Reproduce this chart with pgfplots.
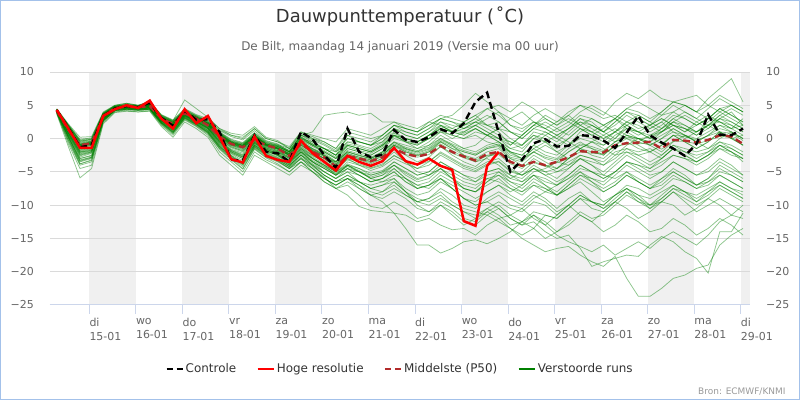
\documentclass[border=0pt]{standalone}
\usepackage{fontspec}
\setmainfont{DejaVu Sans}
\usepackage{pgfplots}
\usepackage{pgfplotstable}
\pgfplotsset{compat=1.18}
\definecolor{gridc}{HTML}{DADADA}
\definecolor{axisc}{HTML}{CCD6EB}
\definecolor{bandc}{HTML}{F0F0F0}
\definecolor{labc}{HTML}{666666}
\definecolor{titc}{HTML}{333333}
\definecolor{credc}{HTML}{999999}
\definecolor{ensc}{HTML}{008000}
\definecolor{p50c}{HTML}{B22B2B}
\definecolor{borderc}{HTML}{A3C1EA}

% control run, median (P50), high resolution run; 6-hourly from 14-01 07h
\pgfplotstableread{
ctrl p50 hres
4.3 4.2 4.3
1.6 1.3 1.5
-1.3 -1.0 -1.4
-1.0 -0.7 -1.4
3.4 3.3 3.4
4.5 4.6 4.4
4.9 4.8 5.0
4.7 4.7 4.6
5.4 4.9 5.7
3.1 3.0 3.0
1.9 2.2 1.5
4.2 3.8 4.4
2.8 3.0 2.3
2.9 2.0 3.4
1.0 0.3 0.2
-3.2 -0.8 -3.1
-3.3 -1.3 -3.6
0.5 -0.2 0.3
-2.0 -1.0 -2.6
-2.2 -1.5 -3.2
-3.5 -2.6 -3.5
1.0 -0.8 -0.3
-0.1 -2.0 -2.2
-2.5 -2.8 -3.5
-4.4 -4.2 -4.8
1.5 -2.6 -2.6
-2.0 -3.0 -3.5
-2.8 -3.4 -4.1
-2.4 -2.8 -3.4
1.3 -1.5 -1.4
-0.2 -2.3 -3.4
-0.5 -2.7 -3.9
0.2 -2.3 -3.0
1.4 -1.1 -4.1
0.8 -2.0 -4.7
2.3 -2.7 -12.4
5.5 -3.3 -13.1
6.9 -2.3 -4.1
0.9 -2.0 -2.0
-5.0 -3.5 nan
-3.2 -4.1 nan
-0.7 -3.5 nan
-0.1 -4.0 nan
-1.2 -3.5 nan
-1.1 -2.8 nan
0.5 -1.9 nan
0.4 -2.0 nan
-0.3 -2.1 nan
-1.4 -1.0 nan
0.9 -0.7 nan
3.4 -0.6 nan
0.5 -0.5 nan
-0.6 -1.5 nan
-1.5 -0.2 nan
-2.6 -0.3 nan
-0.8 -0.6 nan
3.6 -0.2 nan
0.6 0.5 nan
0.5 0.3 nan
1.5 -0.8 nan
}\maintab

% ensemble members, one member per row (60 values, 6-hourly)
\pgfplotstableread[header=false]{
4.3 1.8 -0.8 -0.5 3.6 4.8 5.0 4.8 5.2 3.2 2.4 4.0 3.2 2.4 0.8 -0.5 -1.0 0.5 -0.8 -1.2 -2.0 0.5 -0.5 -1.5 -2.5 0.5 -0.5 -1.0 -0.5 1.5 0.5 0.0 1.0 2.0 1.5 2.5 3.5 2.0 1.0 -1.0 0.5 2.0 1.5 0.5 1.5 3.0 2.5 1.0 2.0 3.5 2.5 1.5 2.5 4.0 3.0 2.0 3.0 4.5 3.5 2.5
4.2 1.2 -1.5 -1.0 3.4 4.6 4.8 4.7 4.9 3.0 2.0 3.8 2.9 2.0 0.2 -1.0 -1.5 0.0 -1.2 -1.8 -2.8 -1.0 -2.2 -3.0 -4.0 -2.5 -3.2 -3.8 -3.0 -1.5 -2.5 -3.5 -2.8 -1.2 -2.5 -3.5 -4.2 -2.8 -2.0 -3.0 -4.0 -2.5 -3.5 -4.5 -3.0 -1.5 -2.5 -3.0 -1.5 -0.5 -1.5 -2.0 -1.0 0.5 -0.5 -1.5 -0.5 1.0 0.0 -1.0
4.0 0.5 -2.5 -2.0 3.0 4.5 4.6 4.5 4.6 2.6 1.5 3.5 2.5 1.5 -0.5 -2.0 -2.8 -0.8 -1.8 -2.5 -3.5 -2.0 -3.5 -4.5 -5.5 -4.0 -5.0 -6.0 -5.5 -4.0 -5.5 -6.5 -6.0 -4.5 -6.0 -7.5 -8.0 -6.5 -5.5 -7.0 -8.0 -6.5 -7.5 -8.5 -7.0 -5.5 -6.5 -8.0 -7.0 -5.5 -6.5 -7.5 -6.0 -4.5 -5.5 -7.0 -6.0 -4.0 -5.0 -6.0
3.8 -0.5 -4.0 -3.5 2.6 4.2 4.4 4.3 4.4 2.2 0.8 3.0 2.0 0.8 -1.5 -3.0 -4.5 -1.5 -2.8 -3.5 -4.5 -3.0 -4.5 -5.8 -7.5 -8.5 -10.2 -10.8 -11.0 -11.2 -13.5 -16.0 -16.0 -17.2 -16.5 -15.5 -15.2 -15.8 -15.0 -14.0 -12.5 -13.5 -11.5 -12.0 -10.5 -9.0 -10.5 -11.0 -9.5 -8.0 -9.5 -10.5 -9.0 -7.5 -8.5 -9.5 -8.0 -7.0 -8.0 -9.0
3.9 -0.8 -4.5 -4.0 2.4 4.0 4.2 4.0 4.2 2.0 0.5 2.8 1.8 0.5 -2.0 -3.5 -5.0 -2.0 -3.2 -4.0 -5.0 -3.5 -5.0 -6.5 -7.5 -6.5 -7.5 -8.5 -8.0 -7.0 -8.5 -9.5 -9.0 -8.0 -9.5 -10.5 -11.0 -11.5 -12.5 -13.5 -15.0 -16.0 -17.0 -16.5 -16.2 -17.5 -18.5 -19.2 -17.7 -21.0 -23.7 -23.7 -22.5 -21.0 -20.5 -19.5 -19.0 -16.0 -14.5 -13.5
4.1 0.8 -2.0 -1.8 3.1 4.5 4.7 4.5 4.7 2.7 1.6 3.6 2.6 1.6 -0.3 -1.8 -2.5 -0.5 -1.6 -2.3 -3.5 -1.5 -3.0 -4.0 -5.5 -4.5 -5.5 -6.5 -6.0 -5.0 -6.5 -7.5 -7.0 -6.0 -7.5 -9.0 -10.0 -9.5 -10.5 -12.0 -13.0 -12.5 -14.0 -15.0 -14.5 -16.5 -19.2 -18.5 -18.0 -17.5 -17.7 -16.0 -14.7 -15.5 -17.0 -18.0 -20.2 -14.0 -14.0 -11.2
4.0 0.2 -3.0 -2.6 2.8 4.3 4.5 4.4 4.5 2.4 1.2 3.3 2.3 1.2 -1.0 -2.5 -3.5 -1.0 -2.2 -3.0 -4.0 -2.5 -4.0 -5.5 -6.5 -6.0 -7.5 -8.5 -9.5 -11.2 -11.5 -12.5 -12.0 -13.0 -13.7 -13.5 -14.5 -13.0 -12.0 -11.5 -10.5 -12.0 -13.0 -11.5 -10.0 -11.5 -12.5 -11.0 -9.5 -10.5 -12.0 -11.0 -9.5 -10.0 -11.5 -10.5 -9.0 -10.0 -11.5 -10.0
4.5 2.2 0.2 0.3 4.0 5.0 5.3 5.0 5.5 3.6 2.8 4.5 3.6 3.0 1.5 0.8 0.5 1.8 0.2 -0.3 -1.5 1.0 0.0 -0.5 -1.5 1.0 0.5 0.0 0.5 2.0 1.5 1.0 2.0 3.0 3.5 5.0 6.8 5.5 4.0 2.0 1.0 2.5 2.0 1.0 2.0 3.5 3.0 2.0 3.0 4.5 4.0 3.0 4.0 5.5 5.0 4.0 5.0 6.5 5.5 4.5
4.4 2.0 -0.2 0.0 3.8 4.9 5.1 4.9 5.3 3.4 2.6 4.3 3.4 2.7 1.2 0.3 -0.2 1.2 -0.3 -0.8 -2.0 0.0 -1.0 -2.0 -3.0 -1.0 -1.5 -2.0 -1.0 0.5 0.0 -0.5 0.5 1.5 1.0 2.0 3.0 2.0 1.5 0.0 -1.0 1.0 0.5 -0.5 1.0 2.5 2.0 1.0 2.5 4.0 3.5 2.5 4.0 5.5 5.0 4.0 6.0 7.5 9.0 5.5
4.2 1.5 -1.2 -0.8 3.5 4.7 4.9 4.8 5.0 3.1 2.1 3.9 3.0 2.1 0.4 -0.8 -1.3 0.2 -1.0 -1.5 -2.5 -0.5 -1.5 -2.5 -3.5 -1.5 -2.0 -2.5 -1.5 0.0 -0.5 -1.0 0.0 1.5 1.0 1.5 2.5 2.0 2.5 1.0 0.5 2.0 3.0 2.0 3.5 5.0 4.5 3.5 5.5 6.8 6.0 7.3 6.0 5.5 6.0 6.5 5.0 4.0 5.0 4.0
4.1 1.0 -1.8 -1.4 3.2 4.5 4.7 4.6 4.8 2.9 1.8 3.7 2.8 1.8 0.0 -1.3 -1.8 -0.3 -1.4 -2.0 -3.0 -1.5 -2.5 -3.5 -4.5 -3.0 -4.0 -4.5 -4.0 -2.5 -3.5 -4.5 -3.5 -2.0 -3.0 -4.0 -4.5 -3.5 -3.0 -4.5 -5.5 -4.0 -5.0 -6.0 -4.5 -3.0 -4.0 -5.0 -3.5 -2.0 -3.0 -4.0 -3.0 -1.5 -2.5 -3.5 -2.5 -1.0 -2.0 -3.5
4.3 1.6 -1.0 -0.6 3.5 4.7 4.9 4.8 5.1 3.1 2.3 4.0 3.1 2.3 0.6 -0.6 -1.1 0.4 -0.9 -1.4 -2.2 0.2 -1.0 -2.0 -3.0 -1.5 -2.0 -2.5 -1.5 0.5 -0.5 -1.0 0.0 1.0 0.0 1.0 2.0 1.0 0.0 -1.5 -2.0 0.0 1.0 0.0 -1.0 1.0 2.0 1.0 0.0 2.0 3.0 2.0 1.0 2.5 3.5 2.5 1.5 3.0 4.0 2.0
4.0 0.4 -2.8 -2.2 2.9 4.4 4.6 4.4 4.6 2.5 1.3 3.4 2.4 1.4 -0.8 -2.2 -3.0 -1.0 -2.0 -2.8 -4.0 -2.5 -4.0 -5.0 -6.0 -4.5 -5.5 -6.5 -6.0 -4.5 -6.0 -7.0 -7.5 -6.0 -7.0 -8.0 -9.0 -8.0 -7.0 -8.5 -9.5 -8.0 -9.0 -10.5 -9.0 -8.0 -9.5 -10.5 -9.0 -7.5 -8.5 -10.0 -9.0 -7.5 -8.0 -9.5 -8.5 -7.0 -8.0 -9.0
4.2 1.4 -1.3 -0.9 3.4 4.6 4.8 4.7 4.9 3.0 2.1 3.8 3.0 2.0 0.3 -0.9 -1.4 0.0 -1.1 -1.6 -2.6 -0.8 -2.0 -3.0 -4.2 -2.5 -3.0 -3.5 -2.5 -1.0 -2.0 -2.5 -2.0 -0.5 -1.5 -2.5 -3.0 -2.0 -1.5 -3.0 -3.5 -2.0 -3.0 -3.5 -2.0 -1.0 -1.5 -2.5 -1.0 0.0 -0.5 -1.0 0.0 1.0 0.5 -0.5 0.5 1.5 1.0 0.0
3.9 -0.2 -3.5 -3.0 2.7 4.2 4.4 4.3 4.4 2.3 0.9 3.1 2.1 0.9 -1.3 -2.8 -4.0 -1.3 -2.5 -3.3 -4.5 -3.5 -5.0 -6.5 -7.5 -7.0 -8.5 -10.2 -10.5 -9.5 -10.5 -12.0 -11.5 -10.0 -11.0 -12.5 -13.0 -11.5 -10.5 -12.0 -13.0 -11.5 -12.5 -14.0 -13.0 -11.5 -12.5 -14.0 -13.0 -11.5 -12.5 -14.0 -13.5 -12.0 -13.0 -14.5 -13.5 -12.0 -13.0 -14.5
4.4 1.9 -0.5 -0.3 3.7 4.8 5.0 4.9 5.3 3.3 2.5 4.1 3.3 2.5 0.9 -0.3 -0.8 0.7 -0.6 -1.0 -1.8 0.5 -0.2 -1.0 -2.0 0.0 -0.5 -1.0 0.0 1.5 1.0 0.5 1.5 2.5 2.0 1.5 2.5 3.5 2.5 1.0 0.0 1.5 2.5 1.5 0.5 2.0 3.0 2.0 1.0 2.5 3.5 2.5 1.5 3.0 4.0 3.0 2.0 3.5 4.5 3.5
4.1 0.6 -2.2 -1.8 3.0 4.4 4.6 4.5 4.7 2.7 1.5 3.5 2.6 1.6 -0.4 -1.8 -2.6 -0.6 -1.7 -2.4 -3.5 -2.0 -3.0 -4.0 -5.0 -4.0 -4.5 -5.5 -5.0 -3.5 -4.5 -5.5 -5.0 -3.5 -4.5 -5.5 -6.5 -5.5 -5.0 -6.5 -7.5 -6.0 -7.0 -8.0 -6.5 -5.0 -6.0 -7.0 -5.5 -4.0 -5.0 -6.0 -5.0 -3.5 -4.5 -5.5 -4.5 -3.0 -4.0 -5.5
4.3 1.7 -0.9 -0.6 3.6 4.7 5.0 4.8 5.1 3.2 2.4 4.0 3.2 2.3 0.7 -0.4 -0.8 0.6 -0.6 -1.1 -2.0 0.5 1.0 3.5 3.8 4.0 3.5 3.8 2.5 2.5 1.5 1.0 2.5 2.0 1.0 0.5 1.5 0.5 -0.5 -1.5 -1.0 0.5 -0.5 -1.5 0.0 1.5 0.5 -0.5 1.0 2.0 1.0 0.0 1.5 2.5 1.5 0.5 2.0 3.0 2.0 1.0
4.2 1.3 -1.4 -1.0 3.4 4.6 4.8 4.7 4.9 3.0 2.0 3.8 2.9 2.0 0.2 -1.0 -1.6 -0.1 -1.2 -1.8 -2.8 -1.0 -2.0 -3.0 -3.5 -2.0 -2.5 -3.0 -2.0 -0.5 -1.0 -1.5 -0.5 1.0 0.5 0.0 1.0 0.5 0.0 -1.0 0.5 2.0 3.5 2.5 4.0 5.0 4.0 3.0 3.5 2.5 1.5 2.0 3.0 2.0 1.0 2.0 3.0 2.5 1.5 2.0
4.0 0.3 -3.2 -2.8 2.8 4.3 4.5 4.4 4.5 2.4 1.1 3.2 2.2 1.1 -1.2 -2.6 -3.8 -1.2 -2.4 -3.2 -4.2 -2.5 -3.5 -5.0 -6.0 -5.0 -6.5 -7.5 -7.0 -6.0 -7.5 -8.5 -8.0 -6.5 -7.5 -9.0 -9.5 -8.0 -7.0 -8.0 -7.0 -5.5 -6.5 -7.0 -5.5 -4.0 -5.0 -5.5 -4.0 -2.5 -3.5 -4.5 -3.0 -1.5 -2.5 -3.5 -2.5 -1.0 -2.0 -3.0
4.2 1.5 -1.1 -0.7 3.5 4.6 4.9 4.7 4.9 3.0 2.2 3.9 3.0 2.1 0.4 -0.7 -1.2 0.1 -1.0 -1.6 -2.4 -0.6 -1.8 -2.6 -3.8 -2.2 -2.8 -3.2 -2.4 -1.0 -1.8 -2.4 -1.8 -0.5 -1.5 -2.0 -2.5 -1.5 -1.0 -2.5 -3.0 -1.5 -2.5 -3.0 -1.5 -0.5 -1.5 -2.0 -0.5 0.5 0.0 -0.5 0.5 1.5 0.5 0.0 1.0 2.0 1.5 0.5
4.0 0.0 -3.8 -3.2 2.7 4.2 4.4 4.3 4.4 2.3 0.9 3.1 2.1 0.9 -1.4 -2.9 -4.2 -1.4 -2.6 -3.4 -4.5 -3.0 -4.0 -5.5 -6.5 -5.5 -6.5 -7.5 -8.0 -6.5 -8.0 -9.5 -9.0 -7.5 -8.5 -10.0 -10.5 -9.0 -8.0 -9.0 -10.0 -8.5 -9.5 -11.0 -10.0 -8.5 -9.5 -10.5 -9.5 -8.0 -9.0 -10.0 -9.5 -8.0 -9.0 -10.0 -9.0 -7.5 -8.5 -9.5
4.3 1.7 -0.7 -0.4 3.6 4.8 5.0 4.8 5.1 3.2 2.3 4.0 3.1 2.2 0.6 -0.5 -1.0 0.4 -0.8 -1.3 -2.2 -0.2 -1.0 -1.8 -2.8 -1.0 -1.5 -2.0 -1.0 0.5 -0.5 -1.5 -1.0 0.0 -1.0 -2.5 -3.5 -3.0 -4.0 -5.5 -6.5 -5.5 -7.0 -8.5 -7.5 -6.5 -8.0 -9.5 -8.5 -7.5 -9.0 -10.5 -9.5 -8.0 -9.5 -11.0 -10.0 -9.0 -10.0 -11.0
4.2 1.3 -1.2 -0.8 3.4 4.6 4.8 4.7 4.9 3.0 2.1 3.8 3.0 2.0 0.3 -0.8 -1.3 -0.1 -1.0 -1.5 -2.6 -0.9 -2.1 -2.9 -4.3 -2.7 -3.2 -3.6 -3.0 -1.6 -2.4 -2.8 -2.4 -1.2 -2.2 -2.9 -3.5 -2.5 -2.2 -3.6 -4.2 -3.6 -4.2 -3.6 -3.0 -2.0 -2.2 -2.3 -1.2 -0.8 -0.8 -0.6 -1.6 -0.4 -0.4 -0.8 -0.3 0.3 0.2 -1.0
3.9 -0.3 -3.8 -3.3 2.6 4.1 4.3 4.2 4.3 2.1 0.7 2.9 1.9 0.7 -1.6 -3.2 -4.6 -1.6 -2.9 -3.8 -5.0 -3.5 -4.5 -6.0 -7.0 -6.0 -7.0 -8.5 -9.0 -8.0 -9.0 -10.5 -11.0 -9.5 -10.5 -12.0 -12.5 -11.0 -10.0 -11.5 -12.5 -11.0 -11.5 -12.0 -10.5 -9.0 -9.5 -10.0 -8.5 -7.0 -7.5 -8.5 -7.5 -6.0 -6.5 -7.5 -6.5 -5.0 -5.5 -6.5
4.4 2.0 -0.3 -0.1 3.8 4.9 5.1 4.9 5.3 3.4 2.6 4.3 3.4 2.6 1.0 -0.1 -0.6 0.9 -0.4 -0.9 -1.5 0.8 0.3 -0.5 -1.5 0.5 0.0 -0.5 0.5 2.0 1.5 1.0 2.0 3.0 2.5 2.0 2.5 1.5 0.5 -0.5 -1.5 0.0 -0.5 -2.0 -1.0 0.5 0.0 -1.0 0.0 1.5 1.0 0.0 1.0 2.5 2.0 1.0 2.5 4.0 3.0 2.0
4.1 0.9 -1.9 -1.5 3.2 4.5 4.7 4.6 4.8 2.8 1.8 3.6 2.7 1.7 -0.1 -1.4 -2.0 -0.4 -1.5 -2.1 -3.2 -1.5 -2.8 -3.8 -5.0 -3.5 -4.0 -4.8 -4.2 -3.0 -3.8 -4.5 -4.0 -2.5 -3.5 -4.5 -5.0 -4.0 -3.5 -5.0 -5.5 -4.5 -5.5 -5.0 -4.0 -3.0 -3.5 -4.0 -2.5 -2.0 -2.5 -2.0 -3.0 -1.5 -2.0 -2.5 -2.0 -1.0 -1.5 -2.5
4.3 1.8 -0.6 -0.4 3.7 4.8 5.0 4.8 5.2 3.3 2.5 4.1 3.2 2.4 0.8 -0.4 -0.9 0.5 -0.7 -1.1 -2.0 0.0 -0.5 -1.5 -2.0 -0.5 -0.5 -1.0 0.5 2.0 1.0 0.5 1.5 3.0 2.5 1.5 2.0 3.0 4.0 3.0 2.0 3.5 4.5 3.5 2.5 4.0 5.0 4.0 3.0 4.5 5.5 4.5 3.5 4.0 5.0 4.0 3.0 4.5 5.0 4.0
4.1 0.7 -2.4 -2.0 3.0 4.4 4.6 4.5 4.6 2.6 1.4 3.4 2.5 1.5 -0.6 -2.0 -2.8 -0.7 -1.8 -2.5 -3.8 -2.0 -3.5 -4.5 -5.5 -4.0 -5.0 -6.0 -5.5 -4.5 -6.0 -7.5 -7.0 -6.0 -7.5 -9.0 -10.0 -9.5 -8.5 -10.0 -10.5 -9.0 -8.0 -8.5 -7.0 -5.5 -6.0 -6.5 -5.0 -3.5 -4.0 -4.5 -3.5 -2.5 -3.0 -3.5 -2.5 -1.5 -2.5 -3.0
4.2 1.6 -0.9 -0.6 3.5 4.7 4.9 4.7 5.0 3.1 2.2 3.9 3.1 2.2 0.5 -0.6 -1.1 0.3 -0.9 -1.4 -2.3 -0.4 -1.5 -2.2 -3.4 -1.8 -2.3 -2.8 -2.0 -0.6 -1.3 -1.8 -1.3 0.0 -0.8 -1.5 -2.0 -1.0 -0.5 -2.0 -2.5 -1.0 -2.0 -2.5 -1.0 0.0 -0.5 -1.0 0.5 1.5 1.0 0.5 1.0 2.0 1.5 1.0 2.0 2.5 2.0 1.0
4.0 0.1 -3.3 -2.8 2.8 4.3 4.5 4.3 4.5 2.4 1.0 3.2 2.2 1.0 -1.1 -2.6 -3.8 -1.1 -2.3 -3.1 -4.2 -2.8 -4.2 -5.5 -6.5 -5.5 -6.5 -7.5 -7.0 -6.5 -8.0 -9.0 -9.5 -8.5 -10.0 -11.0 -12.0 -11.0 -12.0 -13.5 -14.5 -13.5 -15.0 -14.0 -12.5 -11.0 -12.0 -11.5 -10.0 -8.5 -9.5 -10.0 -8.5 -7.0 -8.0 -9.0 -8.0 -6.5 -7.5 -8.5
4.3 1.9 -0.4 -0.2 3.7 4.8 5.1 4.9 5.2 3.3 2.5 4.2 3.3 2.5 0.9 -0.2 -0.7 0.8 -0.5 -1.0 -1.8 0.3 -0.8 -1.5 -2.5 -0.5 -1.0 -1.5 -0.5 1.0 0.0 -0.5 0.5 2.0 1.0 0.5 1.5 0.5 1.5 3.0 4.0 2.5 1.5 2.5 3.5 2.0 1.0 2.0 3.0 1.5 0.5 1.5 2.5 1.0 0.0 1.0 2.0 1.0 0.0 0.5
4.2 1.2 -1.6 -1.2 3.3 4.5 4.7 4.6 4.8 2.9 1.9 3.7 2.9 1.9 0.1 -1.1 -1.7 -0.2 -1.3 -1.9 -2.9 -1.2 -2.4 -3.2 -4.5 -3.0 -3.5 -4.0 -3.5 -2.0 -3.5 -5.0 -5.5 -4.5 -6.0 -7.5 -8.0 -6.5 -5.0 -6.0 -5.0 -3.5 -4.0 -4.5 -3.0 -1.5 -2.0 -2.5 -1.0 0.5 0.0 -0.5 1.0 2.0 1.5 0.5 1.5 3.0 2.5 1.5
4.0 0.5 -2.6 -2.1 2.9 4.4 4.6 4.4 4.6 2.5 1.3 3.4 2.4 1.3 -0.7 -2.1 -3.0 -0.9 -1.9 -2.6 -3.8 -2.2 -3.5 -4.5 -5.5 -4.5 -5.0 -5.5 -5.0 -4.0 -5.0 -6.0 -5.5 -4.5 -5.5 -6.5 -7.0 -6.0 -6.5 -7.5 -8.0 -7.0 -8.0 -7.0 -6.0 -5.0 -6.5 -7.5 -6.5 -5.0 -6.0 -7.0 -6.0 -5.0 -6.0 -7.0 -6.5 -5.5 -6.5 -7.5
4.3 1.7 -0.8 -0.5 3.6 4.8 5.0 4.8 5.1 3.2 2.4 4.0 3.2 2.3 0.7 -0.5 -1.0 0.5 -0.8 -1.2 -2.0 0.0 -1.0 -1.5 -2.5 -1.0 -1.5 -2.0 -1.0 0.5 0.0 -0.5 0.5 1.5 1.0 2.0 3.0 4.5 5.0 4.0 5.5 4.5 3.0 2.0 3.0 2.0 1.0 0.0 1.0 0.0 -1.0 -2.0 -1.0 0.5 -0.5 -1.5 -0.5 1.0 0.0 -1.0
4.1 0.8 -2.1 -1.7 3.1 4.5 4.7 4.5 4.7 2.7 1.6 3.5 2.6 1.6 -0.4 -1.7 -2.4 -0.6 -1.6 -2.3 -3.4 -1.8 -3.0 -4.2 -5.2 -4.0 -4.8 -6.0 -6.5 -6.0 -8.0 -10.0 -11.0 -10.0 -11.5 -13.0 -12.0 -10.5 -9.5 -10.5 -11.0 -9.5 -10.0 -11.5 -10.0 -8.5 -9.5 -10.0 -8.5 -7.5 -8.5 -9.0 -8.0 -7.0 -8.0 -8.5 -7.5 -6.5 -7.5 -8.0
4.4 2.1 -0.1 0.1 3.9 4.9 5.2 5.0 5.4 3.5 2.7 4.4 3.5 2.8 1.3 0.5 0.2 1.5 0.0 -0.5 -1.2 1.0 0.5 0.0 -0.5 1.5 1.0 0.5 1.5 2.5 2.0 1.5 2.5 3.5 3.0 2.5 3.5 4.5 3.5 2.0 1.5 2.5 1.5 0.5 1.5 2.5 1.5 0.5 -0.5 1.0 0.0 -1.0 0.0 1.5 0.5 -0.5 0.5 2.0 1.0 0.0
4.2 1.4 -1.2 -0.9 3.4 4.6 4.8 4.7 4.9 3.0 2.0 3.8 3.0 2.0 0.3 -0.9 -1.4 0.0 -1.1 -1.6 -2.5 -0.7 -1.9 -2.7 -4.0 -2.4 -3.0 -3.4 -2.7 -1.2 -2.0 -2.6 -2.0 -0.8 -1.8 -2.8 -3.2 -2.6 -2.4 -3.8 -4.5 -3.0 -4.0 -5.0 -4.5 -3.0 -4.0 -5.5 -6.0 -5.0 -6.5 -7.5 -6.5 -5.0 -6.0 -7.0 -6.0 -4.5 -5.5 -6.5
3.7 -1.2 -5.9 -4.5 2.2 3.9 4.1 4.0 4.1 1.8 0.2 2.5 1.5 0.2 -2.5 -4.0 -5.5 -2.5 -3.5 -4.5 -5.5 -4.0 -5.0 -6.0 -7.0 -6.0 -6.5 -7.0 -6.5 -5.5 -6.0 -7.0 -6.5 -5.0 -6.0 -7.0 -7.5 -6.0 -5.5 -6.5 -7.0 -5.5 -6.0 -7.0 -6.0 -4.5 -5.0 -6.0 -5.0 -3.5 -4.0 -5.0 -4.0 -2.5 -3.0 -4.0 -3.0 -1.5 -2.0 -3.0
4.3 1.6 -1.0 -0.7 3.5 4.7 4.9 4.8 5.0 3.1 2.3 3.9 3.1 2.2 0.5 -0.7 -1.2 0.3 -0.9 -1.4 -2.3 -0.3 -1.2 -2.0 -3.0 -1.2 -1.8 -2.2 -1.2 0.3 -0.3 -0.8 0.0 1.2 0.5 0.0 0.5 -0.5 -1.0 -2.0 -2.5 -1.0 0.5 1.5 2.5 1.5 0.5 1.5 3.0 2.0 1.0 2.0 3.0 2.0 1.0 2.5 3.5 2.5 1.5 3.0
4.1 0.9 -2.0 -1.6 3.1 4.5 4.7 4.5 4.7 2.7 1.7 3.6 2.7 1.7 -0.2 -1.6 -2.2 -0.5 -1.6 -2.2 -3.3 -1.7 -3.0 -4.0 -5.0 -3.8 -4.5 -5.2 -4.8 -3.5 -4.5 -5.5 -5.0 -3.5 -4.5 -5.5 -6.0 -5.0 -4.5 -6.0 -6.5 -5.0 -4.5 -3.5 -4.0 -2.5 -3.0 -4.0 -3.0 -1.5 -2.5 -3.5 -2.5 -1.0 -2.0 -3.0 -2.0 -0.5 -1.5 -2.5
4.2 1.5 -1.0 -0.6 3.5 4.6 4.9 4.7 5.0 3.0 2.2 3.9 3.0 2.1 0.4 -0.7 -1.2 0.2 -0.9 -1.5 -2.4 -0.5 -1.7 -2.5 -3.6 -2.0 -2.6 -3.0 -2.2 -0.8 -1.5 -2.0 -1.5 -0.2 -1.0 -1.8 -2.3 -1.3 -0.8 -2.2 -3.0 -2.0 -1.0 -2.0 -3.0 -1.5 -0.5 -1.5 -2.5 -1.0 0.0 -1.0 -2.0 -0.5 0.5 -0.5 -1.5 0.0 1.0 0.0
4.4 2.0 -0.4 -0.1 3.8 5.0 5.3 5.0 5.6 3.5 2.7 5.8 4.5 3.2 1.5 0.5 0.0 1.5 0.0 -0.5 -1.5 0.5 0.0 -0.8 -1.8 0.0 -0.5 -1.0 0.0 1.5 0.5 0.0 1.0 2.5 1.5 1.0 2.0 1.0 0.0 -0.5 -1.0 0.5 0.0 -1.0 0.0 1.5 1.0 0.0 1.0 2.5 2.0 1.0 2.0 3.5 3.0 2.0 3.0 4.5 3.5 2.5
4.0 0.3 -3.0 -2.5 2.9 4.3 4.5 4.4 4.5 2.4 1.2 3.3 2.3 1.2 -0.9 -2.3 -3.3 -1.0 -2.1 -2.9 -4.0 -2.4 -3.8 -5.0 -6.0 -5.0 -5.5 -6.5 -6.0 -5.0 -6.5 -7.5 -7.0 -5.5 -6.5 -7.5 -8.0 -7.0 -6.0 -7.5 -8.5 -7.0 -7.5 -8.5 -7.5 -6.0 -7.0 -8.0 -7.0 -5.5 -6.5 -7.5 -7.0 -5.5 -6.5 -7.5 -7.0 -5.5 -6.5 -7.5
4.3 1.6 -1.1 -0.7 3.5 4.7 4.9 4.7 5.0 3.1 2.2 3.9 3.1 2.2 0.5 -0.6 -1.1 0.3 -0.9 -1.4 -2.3 -0.5 -1.6 -2.4 -3.5 -2.0 -2.5 -3.0 -2.0 -0.5 -1.5 -2.0 -1.0 0.5 -0.5 -1.5 -1.0 0.5 1.5 1.0 0.0 1.5 1.0 0.0 1.5 3.0 2.0 1.0 2.5 4.0 3.0 2.0 3.5 5.0 4.0 3.0 4.5 6.0 5.0 4.0
4.1 1.1 -1.7 -1.3 3.3 4.5 4.7 4.6 4.8 2.8 1.9 3.7 2.8 1.8 0.0 -1.2 -1.9 -0.3 -1.4 -2.0 -3.0 -1.3 -2.6 -3.4 -4.6 -3.2 -3.8 -4.4 -3.8 -2.6 -3.4 -4.0 -3.4 -2.2 -3.2 -4.2 -4.8 -3.8 -3.4 -4.8 -5.5 -4.5 -5.0 -4.5 -3.5 -2.5 -3.0 -3.5 -2.0 -1.5 -2.0 -1.5 -2.5 -1.0 -1.5 -2.0 -1.5 -0.5 -1.0 -2.0
4.0 0.2 -3.4 -2.9 2.7 4.2 4.4 4.3 4.4 2.3 1.0 3.1 2.1 1.0 -1.2 -2.7 -3.9 -1.2 -2.4 -3.2 -4.3 -3.0 -4.5 -6.0 -7.0 -6.0 -7.0 -8.0 -8.5 -7.5 -8.5 -9.5 -10.0 -9.0 -10.0 -11.0 -11.5 -10.5 -11.5 -13.0 -12.5 -11.5 -13.0 -14.5 -15.5 -16.2 -17.0 -16.0 -17.5 -16.5 -15.5 -16.5 -15.0 -14.0 -15.0 -16.0 -14.5 -12.5 -11.5 -12.0
4.3 1.7 -0.9 -0.6 3.6 4.8 5.0 4.8 5.1 3.2 2.3 4.0 3.2 2.3 0.6 -0.6 -1.0 0.5 -0.8 -1.2 -2.0 0.2 -0.8 -1.5 -2.5 -0.8 -1.2 -1.8 -0.8 0.8 0.0 -0.5 0.5 1.8 1.2 0.8 1.5 0.5 -0.5 -2.0 -3.0 -1.5 -0.5 0.5 -0.5 -1.5 -0.5 0.5 1.5 0.5 -0.5 0.5 1.5 3.0 2.0 1.0 2.0 3.5 2.5 1.5
4.1 0.8 -2.3 -1.9 3.1 4.4 4.6 4.5 4.6 2.6 1.5 3.5 2.5 1.5 -0.5 -1.9 -2.7 -0.7 -1.8 -2.5 -3.6 -2.0 -3.3 -4.3 -5.3 -4.2 -5.0 -5.8 -5.2 -4.0 -5.2 -6.2 -5.5 -4.0 -5.0 -6.0 -6.5 -5.0 -4.5 -5.5 -6.0 -4.5 -5.5 -6.5 -5.5 -4.0 -5.0 -6.0 -5.0 -3.5 -4.5 -5.5 -5.0 -3.5 -4.5 -5.5 -5.0 -3.5 -4.5 -5.5
4.2 1.4 -1.1 -0.8 3.4 4.6 4.8 4.7 4.9 3.0 2.1 3.8 3.0 2.1 0.4 -0.8 -1.3 0.1 -1.0 -1.5 -2.5 -0.6 -1.8 -2.6 -3.8 -2.3 -2.8 -3.2 -2.4 -1.0 -1.6 -2.2 -1.6 -0.4 -1.2 -2.0 -2.5 -1.5 -1.2 -2.8 -3.2 -2.0 -2.8 -3.2 -2.0 -0.8 -1.2 -1.8 -0.5 0.2 0.0 0.2 -0.8 0.5 0.3 -0.2 0.4 1.0 0.8 -0.3
}\ensraw
\pgfplotstabletranspose{\ens}{\ensraw}

\begin{document}
\begin{tikzpicture}
\useasboundingbox (0,0) rectangle (800bp,400bp);
\fill[white] (0,0) rectangle (800bp,400bp);
\draw[borderc, line width=1.2bp] (0.6bp,0.6bp) rectangle (799.4bp,399.4bp);

\node[anchor=base, font=\fontsize{18}{20}\selectfont, text=titc] at (400bp,377bp) {Dauwpunttemperatuur (\kern1.5bp˚C)};
\node[anchor=base, font=\fontsize{12}{14}\selectfont, text=labc] at (400bp,349bp) {De Bilt, maandag 14 januari 2019 (Versie ma 00 uur)};
\node[anchor=base east, font=\fontsize{9}{10}\selectfont, text=credc] at (789bp,6bp) {Bron: ECMWF/KNMI};

% background axis: weekday bands and right-hand tick labels
\begin{axis}[
  at={(50bp,95bp)}, anchor=south west,
  scale only axis, width=700bp, height=233bp,
  xmin=0.1554, xmax=15.199, ymin=-25, ymax=10,
  hide x axis,
  axis y line*=right,
  y axis line style={draw=none},
  ytick={-25,-20,...,10},
  yticklabels={−25,−20,−15,−10,−5,0,5,10},
  ytick style={draw=none},
  yticklabel style={font=\fontsize{11}{13}\selectfont, text=labc, anchor=west, inner sep=0pt, xshift=16bp},
]
\fill[bandc] (axis cs:1,-25) rectangle (axis cs:2,10);
\fill[bandc] (axis cs:3,-25) rectangle (axis cs:4,10);
\fill[bandc] (axis cs:5,-25) rectangle (axis cs:6,10);
\fill[bandc] (axis cs:7,-25) rectangle (axis cs:8,10);
\fill[bandc] (axis cs:9,-25) rectangle (axis cs:10,10);
\fill[bandc] (axis cs:11,-25) rectangle (axis cs:12,10);
\fill[bandc] (axis cs:13,-25) rectangle (axis cs:14,10);
\fill[bandc] (axis cs:15,-25) rectangle (axis cs:15.199,10);
\addplot[draw=none, forget plot] table[x expr={0.2994+0.25*\coordindex}, y=p50] {\maintab};
\end{axis}

\begin{axis}[
  at={(50bp,95bp)}, anchor=south west,
  scale only axis, width=700bp, height=233bp,
  xmin=0.1554, xmax=15.199, ymin=-25, ymax=10,
  axis x line*=bottom, axis y line*=left,
  x axis line style={axisc, line width=1bp, -},
  y axis line style={draw=none},
  ytick={-25,-20,...,10},
  yticklabels={−25,−20,−15,−10,−5,0,5,10},
  ytick style={draw=none},
  ymajorgrids, major grid style={gridc, line width=1bp},
  yticklabel style={font=\fontsize{11}{13}\selectfont, text=labc, anchor=east, inner sep=0pt, xshift=-7bp},
  xtick={1,...,15},
  xticklabels={{di\\15-01},{wo\\16-01},{do\\17-01},{vr\\18-01},{za\\19-01},{zo\\20-01},{ma\\21-01},{di\\22-01},{wo\\23-01},{do\\24-01},{vr\\25-01},{za\\26-01},{zo\\27-01},{ma\\28-01},{di\\29-01}},
  xtick style={axisc, line width=1bp},
  tick align=outside, major tick length=9bp,
  xticklabel style={font=\fontsize{11}{14}\selectfont, text=labc, align=left, anchor=north west, inner sep=0pt, yshift=-4bp},
  legend columns=4,
  legend style={at={(0.5,-0.2747)}, anchor=center, draw=none, fill=none,
    font=\fontsize{12}{14}\selectfont, text=titc,
    /tikz/every even column/.append style={column sep=18bp}},
  legend image code/.code={\draw[#1] (0bp,0bp) -- (16bp,0bp);},
]
\pgfplotsinvokeforeach{0,...,49}{
  \addplot[ensc, opacity=0.45, line width=0.75bp, forget plot]
    table[x expr={0.2994+0.25*\coordindex}, y=#1] {\ens};
}
\addplot[p50c, line width=2.4bp, dash pattern=on 7bp off 4bp, forget plot]
  table[x expr={0.2994+0.25*\coordindex}, y=p50] {\maintab};
\addplot[black, line width=2.4bp, dash pattern=on 7bp off 4bp, forget plot]
  table[x expr={0.2994+0.25*\coordindex}, y=ctrl] {\maintab};
\addplot[red, line width=2.5bp, forget plot]
  table[x expr={0.2994+0.25*\coordindex}, y=hres] {\maintab};

\addlegendimage{black, line width=2.4bp, dash pattern=on 6bp off 4bp}
\addlegendentry{Controle}
\addlegendimage{red, line width=2.5bp}
\addlegendentry{Hoge resolutie}
\addlegendimage{p50c, line width=2.4bp, dash pattern=on 6bp off 4bp}
\addlegendentry{Middelste (P50)}
\addlegendimage{ensc, line width=2.5bp}
\addlegendentry{Verstoorde runs}
\end{axis}
\end{tikzpicture}
\end{document}
